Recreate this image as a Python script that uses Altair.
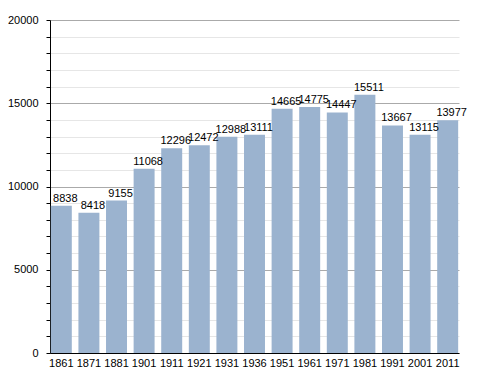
import altair as alt
import pandas as pd

years = ["1861", "1871", "1881", "1901", "1911", "1921", "1931", "1936", "1951",
         "1961", "1971", "1981", "1991", "2001", "2011"]
population = [8838, 8418, 9155, 11068, 12296, 12472, 12988, 13111, 14665,
              14775, 14447, 15511, 13667, 13115, 13977]

df = pd.DataFrame({"year": years, "pop": population})

tick_vals = list(range(0, 20001, 1000))

x = alt.X("year:N", sort=years, title=None,
          scale=alt.Scale(paddingInner=0.24, paddingOuter=0.03),
          axis=alt.Axis(labelAngle=0, ticks=False, grid=False, domainColor="black",
                        labelFont="Liberation Sans", labelFontSize=11,
                        labelColor="black", labelPadding=4))
y = alt.Y("pop:Q", title=None,
          scale=alt.Scale(domain=[0, 20000], nice=False),
          axis=alt.Axis(values=tick_vals, grid=True, labelOverlap=False,
                        labelExpr="datum.value % 5000 == 0 ? datum.label : ''",
                        gridColor={"condition": {"test": "datum.value % 5000 == 0", "value": "#aaaaaa"},
                                   "value": "#e6e6e6"},
                        format="d",
                        domainColor="black", tickColor="black", tickSize=4,
                        labelFont="Liberation Sans", labelFontSize=11,
                        labelColor="black", labelPadding=8))

base = alt.Chart(df).encode(x=x, y=y)
bars = base.mark_bar(color="#9bb3cf")
labels = base.mark_text(dx=4, dy=-4, baseline="alphabetic", font="Liberation Sans",
                        fontSize=11, color="black").encode(text="pop:Q")

chart = alt.layer(bars, labels).properties(
    width=409, height=333,
    autosize=alt.AutoSizeParams(type="none"),
    padding={"left": 42, "top": 12, "right": 10, "bottom": 20},
).configure_view(stroke=None)

chart.save("out.html", embed_options={"renderer": "svg", "actions": False})
